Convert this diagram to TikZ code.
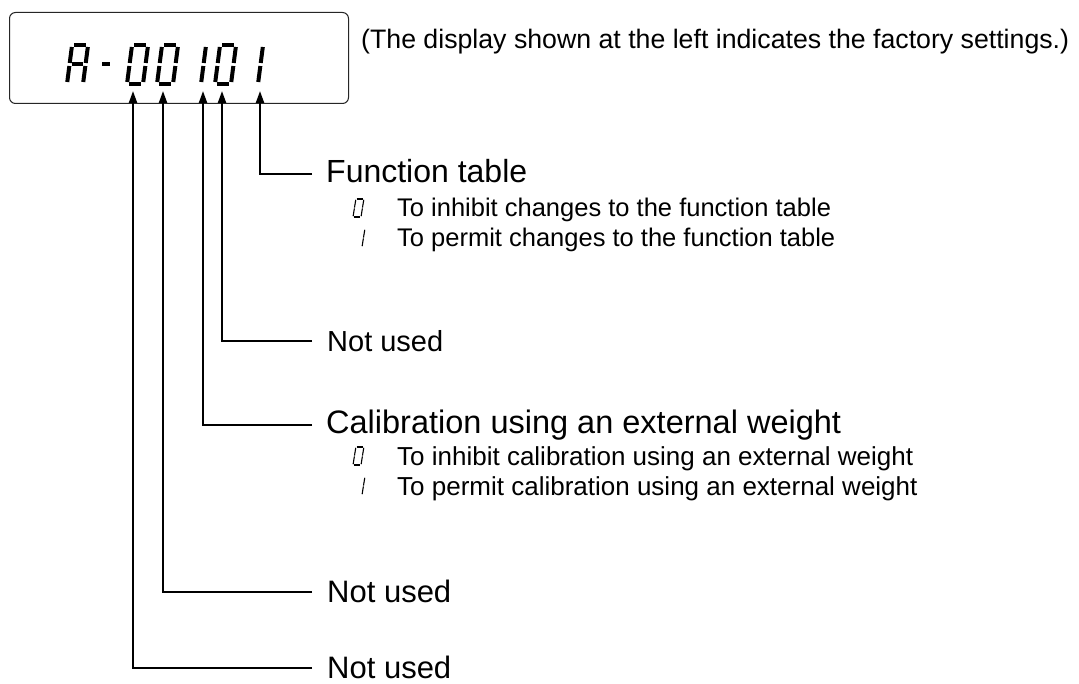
\documentclass[tikz,border=0pt]{standalone}
\usepackage{fontspec}
\setmainfont{Liberation Sans}
\usetikzlibrary{arrows.meta}
\newcommand{\segdigit}[8]{%
 \begin{scope}[shift={(#1,84)},x=1pt,y=1pt,xslant=0.13]
 \ifnum#2=1 \draw[segline] (2.2,39) -- (13.8,39);\fi
 \ifnum#3=1 \draw[segline] (16,37) -- (16,21);\fi
 \ifnum#4=1 \draw[segline] (16,18) -- (16,2);\fi
 \ifnum#5=1 \draw[segline] (2.2,0) -- (13.8,0);\fi
 \ifnum#6=1 \draw[segline] (0,2) -- (0,18);\fi
 \ifnum#7=1 \draw[segline] (0,21) -- (0,37);\fi
 \ifnum#8=1 \draw[segline] (2.2,19.5) -- (13.8,19.5);\fi
 \end{scope}}
\newcommand{\smallzero}[2]{%
 \begin{scope}[shift={(#1,#2)},x=1pt,y=1pt,xslant=0.16]
 \draw[smallseg] (0.8,0) -- (7.2,0);
 \draw[smallseg] (0.8,18) -- (7.2,18);
 \draw[smallseg] (0,0.8) -- (0,8.6);
 \draw[smallseg] (0,9.4) -- (0,17.2);
 \draw[smallseg] (8,0.8) -- (8,8.6);
 \draw[smallseg] (8,9.4) -- (8,17.2);
 \end{scope}}
\newcommand{\smallone}[2]{%
 \begin{scope}[shift={(#1,#2)},x=1pt,y=1pt,xslant=0.16]
 \draw[smallseg] (0,0.8) -- (0,8.6);
 \draw[smallseg] (0,9.4) -- (0,17.2);
 \end{scope}}
\begin{document}
\begin{tikzpicture}[x=1pt,y=-1pt,
  segline/.style={line width=4pt, line cap=butt},
  smallseg/.style={line width=1.1pt},
  conn/.style={line width=2pt, line join=miter, -{Triangle[length=12pt,width=8pt]}},
  mainlbl/.style={anchor=base west, inner sep=0pt, font=\fontsize{32}{38}\selectfont},
  nulbl/.style={anchor=base west, inner sep=0pt, font=\fontsize{31}{37}\selectfont},
  sublbl/.style={anchor=base west, inner sep=0pt, font=\fontsize{25.5}{30}\selectfont},
  hdrlbl/.style={anchor=base west, inner sep=0pt, font=\fontsize{26.7}{32}\selectfont}]
\useasboundingbox (0,0) rectangle (1079,684);
\fill[white] (0,0) rectangle (1079,684);
% display
\node[draw=black!85, line width=1pt, rounded corners=6pt, minimum width=339pt, minimum height=91pt, anchor=north west, inner sep=0pt] (disp) at (9,12) {};
\segdigit{67}{1}{1}{1}{0}{1}{1}{1}
\draw[segline] (102,64.5) -- (110,64.5);
\segdigit{127}{1}{1}{1}{1}{1}{1}{0}
\segdigit{157}{1}{1}{1}{1}{1}{1}{0}
\segdigit{185}{0}{1}{1}{0}{0}{0}{0}
\segdigit{215}{1}{1}{1}{1}{1}{1}{0}
\segdigit{242}{0}{1}{1}{0}{0}{0}{0}
% header
\node[hdrlbl] (hdr) at (361,49) {(The display shown at the left indicates the factory settings.)};
% arrow tips
\coordinate (t1) at (260,91);
\coordinate (t2) at (222,91);
\coordinate (t3) at (203,91);
\coordinate (t4) at (163,91);
\coordinate (t5) at (133,91);
% line ends
\coordinate (e1) at (312,174.5);
\coordinate (e2) at (312,341);
\coordinate (e3) at (312,425);
\coordinate (e4) at (312,592);
\coordinate (e5) at (312,668);
\draw[conn] (e1) -| (t1);
\draw[conn] (e2) -| (t2);
\draw[conn] (e3) -| (t3);
\draw[conn] (e4) -| (t4);
\draw[conn] (e5) -| (t5);
% labels
\node[mainlbl] (fn) at (326,183) {Function table};
\smallzero{353}{217}
\node[sublbl] (fn0) at (397,217) {To inhibit changes to the function table};
\smallone{362}{247}
\node[sublbl] (fn1) at (397,247) {To permit changes to the function table};
\node[nulbl, font=\fontsize{29}{35}\selectfont] (nu1) at (327,352) {Not used};
\node[mainlbl, font=\fontsize{32.5}{38}\selectfont] (cal) at (326,433) {Calibration using an external weight};
\smallzero{353}{465}
\node[sublbl, font=\fontsize{26}{31}\selectfont] (cal0) at (397,465) {To inhibit calibration using an external weight};
\smallone{362}{495}
\node[sublbl, font=\fontsize{26}{31}\selectfont] (cal1) at (397,495) {To permit calibration using an external weight};
\node[nulbl] (nu2) at (327,602) {Not used};
\node[nulbl] (nu3) at (327,678) {Not used};
\end{tikzpicture}
\end{document}
